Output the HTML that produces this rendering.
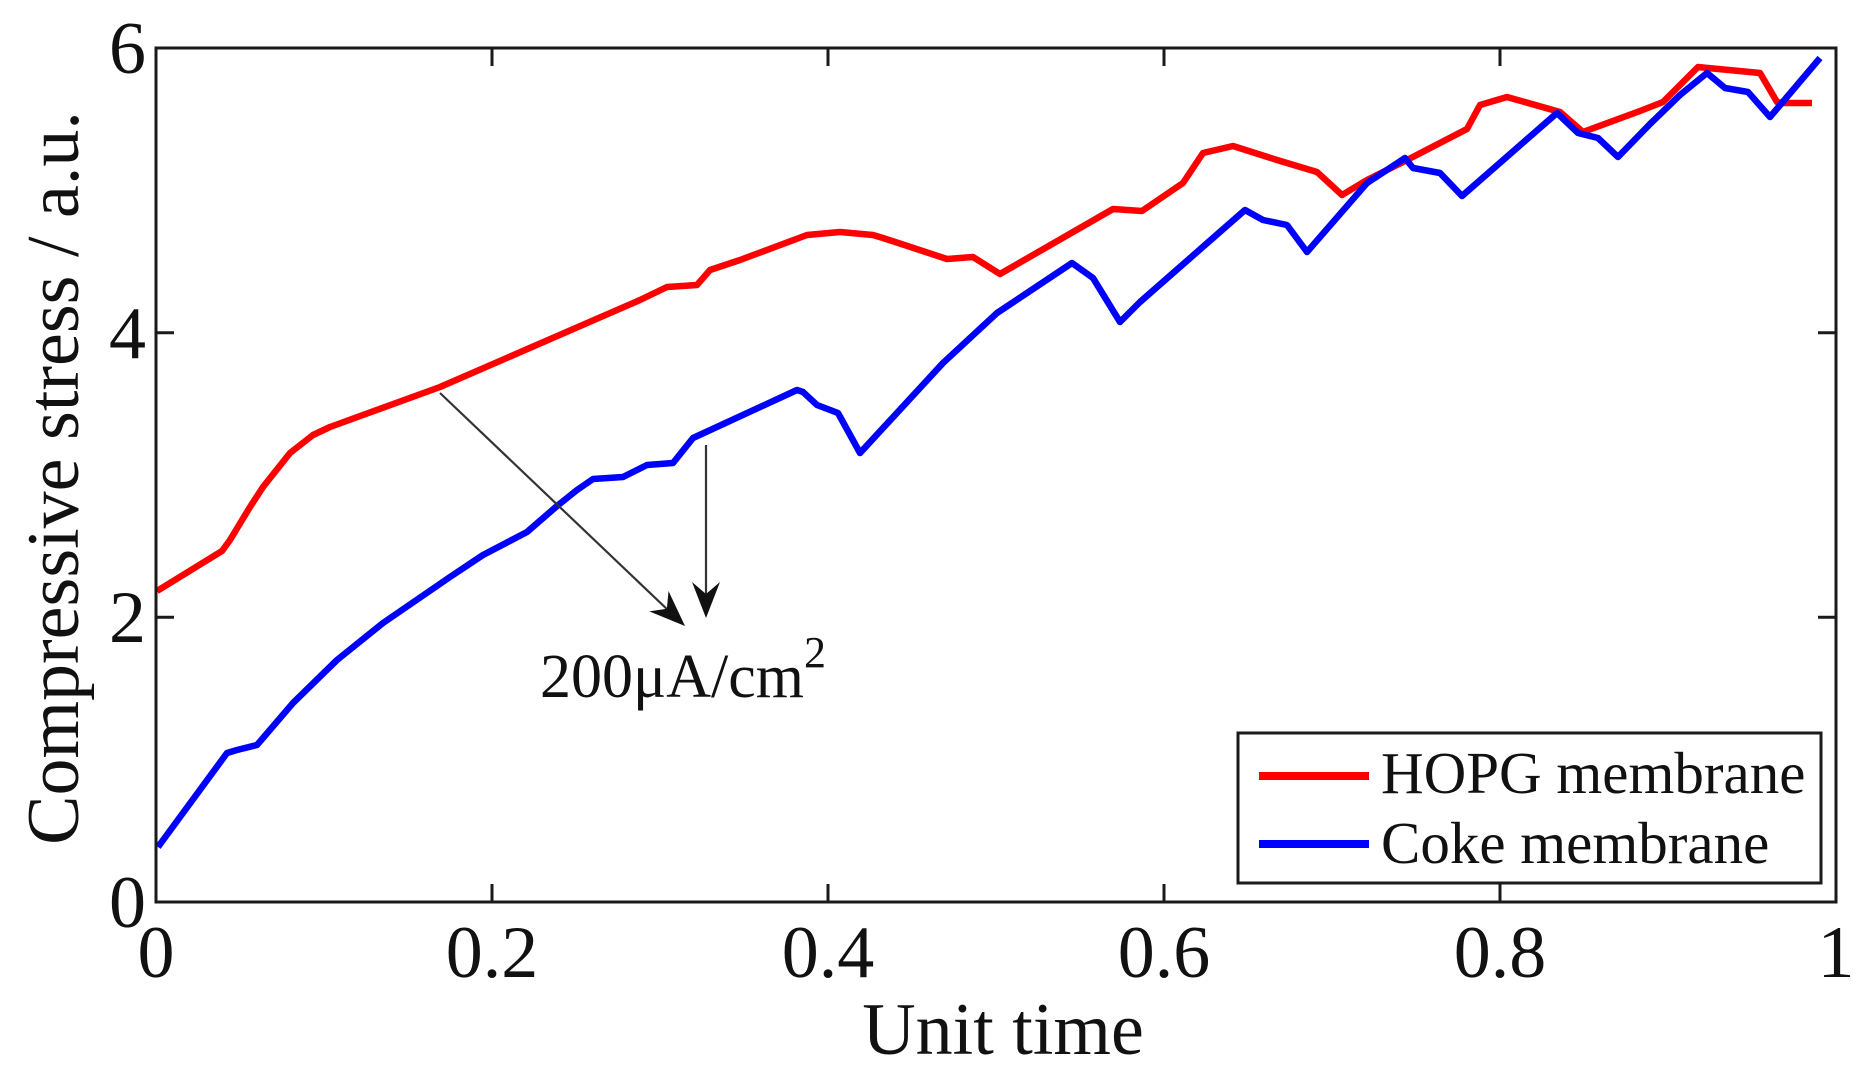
<!DOCTYPE html>
<html>
<head>
<meta charset="utf-8">
<style>
  html, body { margin:0; padding:0; background:#fff; }
  svg { display:block; }
  text { font-family: "Liberation Serif", "DejaVu Serif", serif; fill:#111; }
</style>
</head>
<body>
<svg width="1871" height="1089" viewBox="0 0 1871 1089" xmlns="http://www.w3.org/2000/svg">
  <rect x="0" y="0" width="1871" height="1089" fill="#fff"/>

  <!-- series -->
  <polyline fill="none" stroke="#ff0000" stroke-width="6.5" stroke-linejoin="round" stroke-linecap="butt"
    points="157,591 222,551 230,540 250,507 263,487 290,453 313,435 330,427 440,387 640,300 667,287 697,285 710,270 740,260 807,235 840,232 873,235 883,238 947,259 973,257 1000,274 1113,209 1142,211 1183,183 1203,153 1233,146 1277,160 1317,172 1342,195 1367,180 1407,160 1467,129 1480,105 1507,97 1560,112 1583,132 1640,111 1663,102 1698,67 1708,68 1760,73 1777,102 1783,103 1812,103"/>
  <polyline fill="none" stroke="#0000ff" stroke-width="6.5" stroke-linejoin="round" stroke-linecap="butt"
    points="158,847 227,753 237,750 257,745 293,703 337,660 383,623 450,577 483,555 527,532 557,506 577,490 593,479 623,477 633,472 647,465 673,463 693,438 797,390 803,392 817,405 838,413 860,453 943,363 997,313 1072,263 1093,278 1120,322 1140,302 1213,238 1245,210 1263,220 1287,225 1307,252 1367,183 1405,158 1413,168 1440,173 1462,196 1557,113 1578,133 1598,138 1618,157 1650,124 1680,95 1707,73 1725,88 1748,92 1770,117 1820,58"/>

  <!-- axes box -->
  <rect x="156" y="48" width="1680" height="854" fill="none" stroke="#1a1a1a" stroke-width="3"/>
  <!-- ticks -->
  <g stroke="#1a1a1a" stroke-width="3">
    <line x1="492" y1="902" x2="492" y2="884"/>
    <line x1="828" y1="902" x2="828" y2="884"/>
    <line x1="1164" y1="902" x2="1164" y2="884"/>
    <line x1="1500" y1="902" x2="1500" y2="884"/>
    <line x1="492" y1="48" x2="492" y2="66"/>
    <line x1="828" y1="48" x2="828" y2="66"/>
    <line x1="1164" y1="48" x2="1164" y2="66"/>
    <line x1="1500" y1="48" x2="1500" y2="66"/>
    <line x1="156" y1="617.3" x2="174" y2="617.3"/>
    <line x1="156" y1="332.7" x2="174" y2="332.7"/>
    <line x1="1836" y1="617.3" x2="1818" y2="617.3"/>
    <line x1="1836" y1="332.7" x2="1818" y2="332.7"/>
  </g>

  <!-- y tick labels -->
  <g font-size="74" text-anchor="end">
    <text x="146" y="927">0</text>
    <text x="146" y="642">2</text>
    <text x="146" y="358">4</text>
    <text x="146" y="73">6</text>
  </g>
  <!-- x tick labels -->
  <g font-size="74" text-anchor="middle">
    <text x="156" y="977">0</text>
    <text x="492" y="977">0.2</text>
    <text x="828" y="977">0.4</text>
    <text x="1164" y="977">0.6</text>
    <text x="1500" y="977">0.8</text>
    <text x="1836" y="977">1</text>
  </g>

  <!-- axis titles -->
  <text x="1003" y="1054" font-size="74" text-anchor="middle">Unit time</text>
  <text transform="translate(78,478) rotate(-90)" font-size="74" text-anchor="middle">Compressive stress / a.u.</text>

  <!-- annotation arrows -->
  <g stroke="#333" stroke-width="2.2" fill="none">
    <line x1="440" y1="393" x2="670" y2="612"/>
    <line x1="706" y1="445" x2="706" y2="600"/>
  </g>
  <polygon points="685,626 649.3,611.4 666.9,608.8 668.5,591" fill="#111"/>
  <polygon points="706,618 692,582 706,594 720,582" fill="#111"/>
  <text x="540" y="697" font-size="62">200μA/cm<tspan font-size="44" dy="-30">2</tspan></text>

  <!-- legend -->
  <rect x="1238" y="733" width="583" height="150" fill="#fff" stroke="#1a1a1a" stroke-width="3"/>
  <line x1="1259" y1="776" x2="1369" y2="776" stroke="#ff0000" stroke-width="8"/>
  <line x1="1259" y1="844" x2="1369" y2="844" stroke="#0000ff" stroke-width="8"/>
  <text x="1381" y="793" font-size="59">HOPG membrane</text>
  <text x="1381" y="863" font-size="59">Coke membrane</text>
</svg>
</body>
</html>
